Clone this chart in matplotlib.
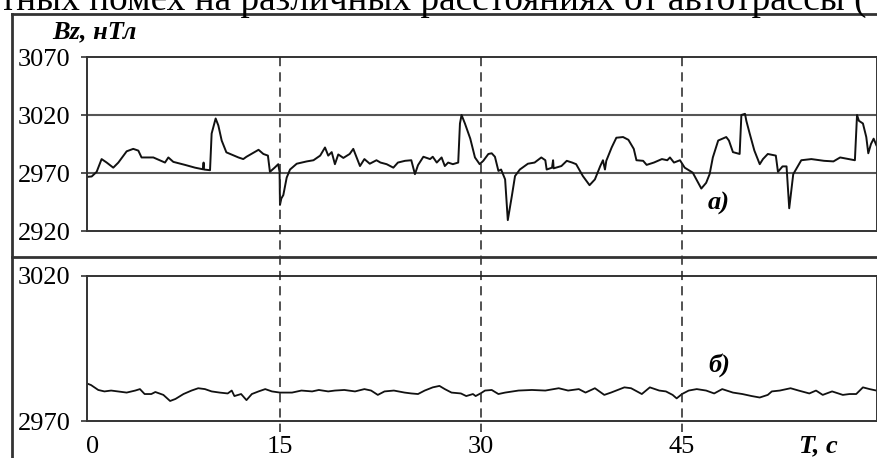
import matplotlib
matplotlib.use("Agg")
import matplotlib.pyplot as plt
from matplotlib.lines import Line2D
from matplotlib.transforms import blended_transform_factory

plt.rcParams['font.family'] = ['Liberation Serif', 'DejaVu Serif']

# panel a) - near the highway
t_a = [0.45, 0.95, 1.32, 1.69, 2.07, 2.56, 2.94, 3.56, 4.05, 4.43,
       4.67, 5.55, 6.42, 6.67, 7.04, 7.91, 8.66, 9.25, 9.3, 9.33,
       9.78, 9.9, 10.2, 10.4, 10.65, 11.0, 11.9, 12.26, 12.5, 13.4,
       13.76, 14.1, 14.25, 14.6, 14.87, 14.97, 15.0, 15.1, 15.25, 15.5,
       15.75, 16.25, 17.0, 17.5, 18.0, 18.36, 18.6, 18.86, 19.1, 19.35,
       19.73, 20.2, 20.47, 20.97, 21.3, 21.7, 22.2, 22.5, 22.96, 23.46,
       23.8, 24.33, 24.8, 25.07, 25.3, 25.7, 26.2, 26.4, 26.7, 27.06,
       27.3, 27.55, 27.9, 28.3, 28.43, 28.55, 28.8, 29.2, 29.55, 29.9,
       30.17, 30.55, 30.8, 31.04, 31.3, 31.5, 31.8, 32.0, 32.3, 32.54,
       32.9, 33.5, 34.0, 34.5, 34.8, 34.9, 35.3, 35.38, 35.42, 36.0,
       36.4, 36.8, 37.1, 37.6, 38.1, 38.5, 38.9, 39.1, 39.25, 39.35,
       39.75, 40.1, 40.6, 41.0, 41.4, 41.6, 42.1, 42.36, 42.9, 43.5,
       43.9, 44.1, 44.4, 44.85, 45.2, 45.8, 46.44, 46.8, 47.06, 47.3,
       47.7, 48.3, 48.5, 48.8, 49.1, 49.3, 49.43, 49.7, 49.8, 50.05,
       50.4, 50.8, 51.04, 51.4, 52.0, 52.16, 52.5, 52.8, 53.0, 53.3,
       53.9, 54.65, 55.6, 56.3, 56.8, 57.9, 58.06, 58.2, 58.5, 58.75,
       58.9, 59.1, 59.3, 59.5]
bz_a = [2966.5, 2967, 2971, 2982, 2979, 2974.6, 2979, 2988.7, 2990.8, 2989.3,
        2983.4, 2983.4, 2979, 2983.4, 2979.6, 2977, 2974.6, 2973.2, 2979, 2973,
        2972.4, 3004, 3017, 3011, 2998, 2987.8, 2983.4, 2982, 2984, 2990,
        2986.4, 2985, 2971, 2974.6, 2977.6, 2971, 2942.5, 2948, 2951, 2966,
        2973, 2978, 2980, 2981, 2985, 2992, 2985, 2988, 2977.6, 2986,
        2983, 2986.4, 2990.8, 2976, 2982, 2978, 2981, 2979, 2977.6, 2974.6,
        2979, 2980.5, 2981, 2969, 2976.8, 2984, 2982, 2984, 2979, 2983.4,
        2976, 2979, 2977.6, 2979, 3012.7, 3020, 3012.7, 2999.6, 2983.4, 2977.6,
        2980.5, 2986.4, 2987, 2984, 2971.8, 2973, 2964.5, 2929.4, 2950, 2967.4,
        2973, 2978, 2979, 2983.4, 2981, 2973, 2974.6, 2981, 2974, 2976,
        2980.5, 2979, 2977.6, 2967.4, 2959.5, 2964.5, 2976, 2981, 2973, 2980.5,
        2992, 3000.4, 3001, 2998.6, 2990.8, 2981, 2980.5, 2977, 2979, 2982,
        2981, 2983.4, 2979, 2981, 2974.6, 2970.3, 2956.6, 2961.5, 2969, 2983.4,
        2998, 3001, 2998, 2988, 2987, 2986.4, 3020, 3021, 3015, 3004,
        2989.3, 2977.6, 2982, 2986.4, 2985, 2971, 2975.7, 2975.7, 2939.6, 2969,
        2981, 2982, 2980.5, 2980, 2983.4, 2981, 3020, 3015, 3012.7, 3001,
        2987, 2995, 2999.6, 2994]

# panel б) - far from the highway
t_b = [0.45, 0.9, 1.44, 1.9, 2.4, 2.9, 3.56, 4.2, 4.55, 4.9,
       5.4, 5.7, 6.3, 6.8, 7.2, 7.8, 8.4, 8.9, 9.4, 9.9,
       10.5, 11.1, 11.4, 11.6, 12.1, 12.5, 12.9, 13.4, 13.9, 14.4,
       15.0, 15.9, 16.6, 17.4, 17.9, 18.6, 19.1, 19.8, 20.6, 21.3,
       21.8, 22.3, 22.8, 23.5, 24.3, 24.8, 25.3, 25.8, 26.4, 26.9,
       27.3, 27.8, 28.5, 28.9, 29.4, 29.6, 30.0, 30.3, 30.8, 31.3,
       31.8, 32.8, 33.8, 34.8, 35.8, 36.5, 37.3, 37.8, 38.5, 39.2,
       39.7, 40.2, 40.7, 41.2, 42.0, 42.6, 43.3, 43.8, 44.3, 44.6,
       45.0, 45.5, 46.1, 46.8, 47.4, 48.0, 48.8, 49.5, 50.2, 50.8,
       51.4, 51.7, 52.3, 53.1, 53.7, 54.5, 55.0, 55.5, 56.2, 57.0,
       57.5, 58.0, 58.5, 59.0, 59.5]
bz_b = [2983.2, 2982.4, 2980.7, 2980.2, 2980.5, 2980.2, 2979.8, 2980.5, 2981, 2979.3,
        2979.3, 2980, 2979, 2976.9, 2977.6, 2979.3, 2980.5, 2981.3, 2981, 2980.2,
        2979.8, 2979.5, 2980.5, 2978.6, 2979.3, 2977.2, 2979.3, 2980.2, 2981, 2980.2,
        2979.8, 2979.8, 2980.5, 2980.2, 2980.7, 2980.2, 2980.5, 2980.7, 2980.2, 2981,
        2980.5, 2979, 2980.2, 2980.5, 2979.8, 2979.5, 2979.3, 2980.5, 2981.6, 2982.1,
        2981, 2979.8, 2979.5, 2978.6, 2979.3, 2978.6, 2979.6, 2980.5, 2980.7, 2979.3,
        2979.8, 2980.5, 2980.7, 2980.5, 2981.3, 2980.5, 2981, 2979.8, 2981.3, 2979,
        2979.8, 2980.7, 2981.6, 2981.3, 2979.3, 2981.6, 2980.5, 2980.2, 2979, 2977.8,
        2979.3, 2980.5, 2981, 2980.5, 2979.5, 2981, 2979.8, 2979.3, 2978.6, 2978.1,
        2979, 2980.2, 2980.5, 2981.3, 2980.5, 2979.5, 2980.5, 2979, 2980.2, 2979,
        2979.3, 2979.3, 2981.6, 2981, 2980.5]

x_ticks = [1.0, 15, 30, 45]
x_labels = ['0', '15', '30', '45']
marks = [15, 30, 45]

W, H = 878, 458
fig = plt.figure(figsize=(W / 100, H / 100), dpi=100)

def fx(px):
    return px / W

def fy(py):
    return 1 - py / H

ax1 = fig.add_axes([fx(87), fy(231), fx(877) - fx(87), fy(57) - fy(231)])
ax2 = fig.add_axes([fx(87), fy(421), fx(877) - fx(87), fy(276) - fy(421)], sharex=ax1)

frame_col = '#333333'
for ax in (ax1, ax2):
    for s in ax.spines.values():
        s.set_color(frame_col)
        s.set_linewidth(1.4)
    ax.tick_params(axis='y', direction='out', length=4, width=1.2, color=frame_col,
                   labelsize=19, pad=8)

ax1.plot(t_a, bz_a, color='#111111', lw=1.4)
ax1.set_xlim(0.6, 59.55)
ax1.set_ylim(2920, 3070)
ax1.set_yticks([2920, 2970, 3020, 3070])
for v in (2970, 3020):
    ax1.axhline(v, color='#555555', lw=1.5, zorder=0)
ax1.tick_params(axis='x', bottom=False, labelbottom=False)

ax2.plot(t_b, bz_b, color='#111111', lw=1.3)
ax2.set_ylim(2970, 3020)
ax2.set_yticks([2970, 3020])
ax2.set_xticks(x_ticks)
ax2.set_xticklabels(x_labels)
ax2.tick_params(axis='x', length=0, labelsize=19, pad=11)

# dashed verticals running through both panels
tr = blended_transform_factory(ax1.transData, fig.transFigure)
for m in marks:
    fig.add_artist(Line2D([m, m], [fy(57), fy(432)], transform=tr, color='#222222',
                          lw=1.1, linestyle=(0, (6, 4))))

# outer frame of the figure
for xs, ys in [([fx(12), fx(12)], [fy(14), 0]),
               ([fx(12), 1], [fy(14), fy(14)]),
               ([fx(12), 1], [fy(257), fy(257)])]:
    fig.add_artist(Line2D(xs, ys, transform=fig.transFigure, color='#333333', lw=2))

fig.text(fx(52), fy(32), 'Bz, нТл', fontsize=19, fontweight='bold', fontstyle='italic',
         va='center', ha='left')
fig.text(fx(708), fy(203), 'а)', fontsize=19, fontweight='bold', fontstyle='italic',
         va='center', ha='left')
fig.text(fx(708), fy(365), 'б)', fontsize=19, fontweight='bold', fontstyle='italic',
         va='center', ha='left')
fig.text(fx(799), fy(446), 'T, c', fontsize=19, fontweight='bold', fontstyle='italic',
         va='center', ha='left')

# caption line, cut off at the top of the image (as in the source scan)
fig.text(fx(0), fy(10), 'тных помех на различных расстояниях от автотрассы (',
         fontsize=26.8, va='baseline', ha='left')

fig.savefig('out.png', dpi=100)
